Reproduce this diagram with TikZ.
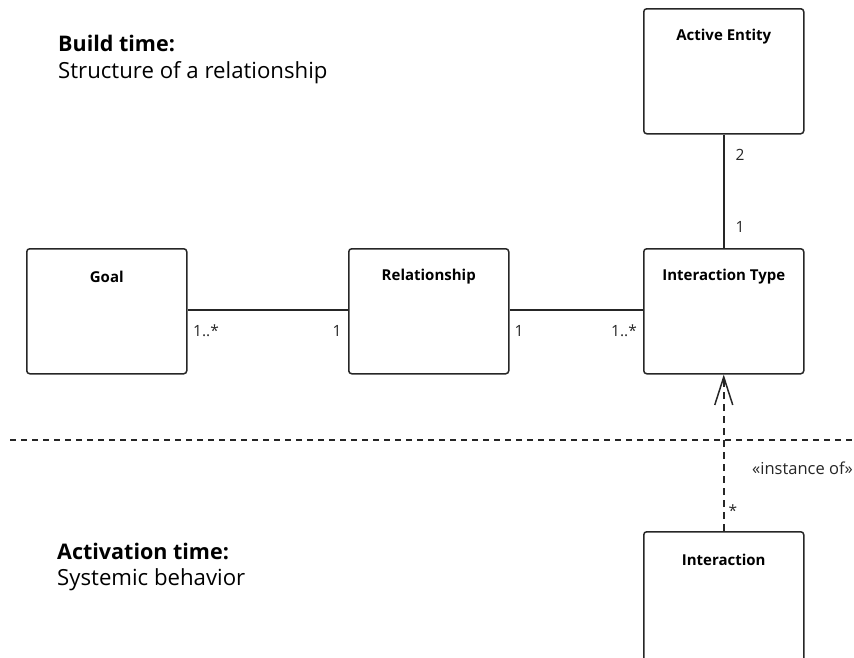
\documentclass[tikz,border=0pt]{standalone}
\usepackage{fontspec}
\setmainfont{Open Sans}
\usetikzlibrary{arrows.meta}
\begin{document}
\begin{tikzpicture}[x=1pt,y=-1pt,
  classbox/.style={draw=black!85,line width=1.5pt,rounded corners=3pt,minimum width=160pt,minimum height=125pt,anchor=north west,inner sep=0pt},
  boxtitle/.style={font=\bfseries\fontsize{15}{17}\selectfont,anchor=center,inner sep=0pt},
  assoc/.style={draw=black!85,line width=1.5pt},
  mult/.style={font=\fontsize{15.5}{18}\selectfont,text=black!85,inner sep=0pt},
  heading/.style={font=\bfseries\fontsize{21.5}{24}\selectfont,anchor=west,inner sep=0pt},
  subheading/.style={font=\fontsize{22.2}{25}\selectfont,anchor=west,inner sep=0pt}]
\useasboundingbox (0,0) rectangle (854,657);
\begin{scope}
\clip (0,0) rectangle (854,657);
% classes
\node[classbox] (active) at (643,8) {};
\node[classbox] (goal) at (26,248) {};
\node[classbox] (rel) at (348,248) {};
\node[classbox] (itype) at (643,248) {};
\node[classbox,minimum height=130pt] (inter) at (643,531) {};
\end{scope}
\node[boxtitle] (activeT) at ([yshift=-28.5pt]active.north) {Active Entity};
\node[boxtitle] (goalT) at ([yshift=-28.5pt]goal.north) {Goal};
\node[boxtitle] (relT) at ([yshift=-28.5pt]rel.north) {Relationship};
\node[boxtitle] (itypeT) at ([yshift=-28.5pt]itype.north) {Interaction Type};
\node[boxtitle] (interT) at ([yshift=-28.5pt]inter.north) {Interaction};
% associations
\draw[assoc] (goal.east |- 0,310) -- (rel.west |- 0,310);
\draw[assoc] (rel.east |- 0,310) -- (itype.west |- 0,310);
\draw[assoc] (active.south) -- (itype.north);
% instance-of dependency
\draw[assoc,dash pattern=on 7pt off 5pt,-{Straight Barb[length=28pt,width=18pt,line width=1.5pt]}] (inter.north) -- (itype.south);
% phase separator
\draw[line width=1.3pt,black!85,dash pattern=on 6pt off 5pt] (10,440) -- (854,440);
% multiplicities
\node[mult,anchor=west] (m1) at (193,331) {1..*};
\node[mult] (m2) at (337,331) {1};
\node[mult] (m3) at (519,331) {1};
\node[mult,anchor=east] (m4) at (637,331) {1..*};
\node[mult] (m5) at (740,155) {2};
\node[mult] (m6) at (740,227) {1};
\node[mult] (m7) at (733,511) {*};
\node[mult,anchor=east,font=\fontsize{16.5}{19}\selectfont] (st) at (853,468) {«instance of»};
% phase headings
\node[heading] (bt) at (58,43) {Build time:};
\node[subheading] (btsub) at (58,73) {Structure of a relationship};
\node[heading] (at) at (57,551) {Activation time:};
\node[subheading] (atsub) at (57,580) {Systemic behavior};
\end{tikzpicture}
\end{document}
